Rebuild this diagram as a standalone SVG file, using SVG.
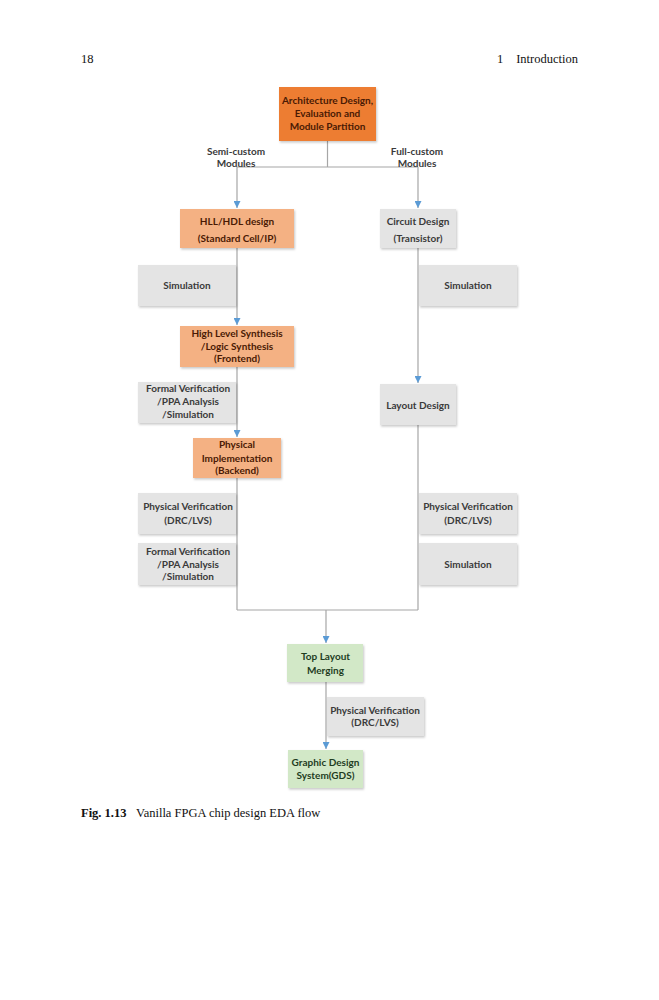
<svg xmlns="http://www.w3.org/2000/svg" width="659" height="1000" viewBox="0 0 659 1000">
<style>
.bg{fill:#ffffff}
.t{font-family:Lato,"Open Sans","Liberation Sans",sans-serif;font-weight:bold;font-size:10px;text-anchor:middle}
.to{fill:#4a1a04}
.tg{fill:#3a3a3a}
.tgr{fill:#1f3d1f}
.tl{fill:#3a3a3a}
.dark{fill:#ED7D31}
.orange{fill:#F4B183}
.gray{fill:#E4E4E4}
.green{fill:#D2E8C7}
.box{filter:url(#sh)}
.ln{stroke:#A6A6A6;stroke-width:1.2;fill:none}
.ar{stroke:#A6A6A6;stroke-width:1.2;fill:none;marker-end:url(#ah)}
.pg{font-family:"Liberation Serif",serif;font-size:12.5px;fill:#111}
</style>
<defs>
<filter id="sh" x="-10%" y="-10%" width="125%" height="130%">
<feDropShadow dx="1" dy="1.5" stdDeviation="1" flood-color="#000" flood-opacity="0.22"/>
</filter>
<marker id="ah" markerWidth="8" markerHeight="7" refX="7" refY="3.5" orient="auto" markerUnits="userSpaceOnUse">
<path d="M0,0 L7,3.5 L0,7 z" fill="#5B9BD5"/>
</marker>
</defs>
<rect class="bg" width="659" height="1000"/>
<text class="pg" x="81" y="63">18</text>
<text class="pg" x="497" y="63">1</text>
<text class="pg" x="578" y="63" text-anchor="end">Introduction</text>

<g id="connectors">
<line class="ln" x1="327.5" y1="141" x2="327.5" y2="167"/>
<line class="ln" x1="237" y1="167" x2="418" y2="167"/>
<line class="ar" x1="237" y1="167" x2="237" y2="208"/>
<line class="ar" x1="418" y1="167" x2="418" y2="208"/>
<line class="ar" x1="237" y1="248" x2="237" y2="325"/>
<line class="ar" x1="237" y1="367" x2="237" y2="437"/>
<line class="ln" x1="237" y1="478" x2="237" y2="610"/>
<line class="ar" x1="418" y1="248" x2="418" y2="383"/>
<line class="ln" x1="418" y1="425" x2="418" y2="610"/>
<line class="ln" x1="237" y1="610" x2="418" y2="610"/>
<line class="ar" x1="326" y1="610" x2="326" y2="643"/>
<line class="ar" x1="326" y1="682" x2="326" y2="749"/>
</g>

<g id="arch">
<rect class="dark box" x="279" y="87" width="97" height="54"/>
<text class="t to" x="327.5" y="104.3">Architecture Design,</text>
<text class="t to" x="327.5" y="117.3">Evaluation and</text>
<text class="t to" x="327.5" y="130.3">Module Partition</text>
</g>
<g id="semi-label">
<text class="t tl" x="236" y="154.5">Semi-custom</text>
<text class="t tl" x="236" y="166.5">Modules</text>
</g>
<g id="full-label">
<text class="t tl" x="417" y="154.5">Full-custom</text>
<text class="t tl" x="417" y="166.5">Modules</text>
</g>

<g id="hll">
<rect class="orange box" x="180" y="209" width="114" height="39"/>
<text class="t to" x="237" y="225.3">HLL/HDL design</text>
<text class="t to" x="237" y="241.8">(Standard Cell/IP)</text>
</g>
<g id="circuit">
<rect class="gray box" x="380" y="209" width="76" height="39"/>
<text class="t tg" x="418" y="225.3">Circuit Design</text>
<text class="t tg" x="418" y="241.8">(Transistor)</text>
</g>
<g id="sim-left">
<rect class="gray box" x="138" y="265" width="98" height="41"/>
<text class="t tg" x="187" y="288.8">Simulation</text>
</g>
<g id="sim-right">
<rect class="gray box" x="419" y="265" width="98" height="41"/>
<text class="t tg" x="468" y="288.8">Simulation</text>
</g>
<g id="hls">
<rect class="orange box" x="180" y="326" width="114" height="41"/>
<text class="t to" x="237" y="336.8">High Level Synthesis</text>
<text class="t to" x="237" y="349.6">/Logic Synthesis</text>
<text class="t to" x="237" y="362.3">(Frontend)</text>
</g>
<g id="fv1">
<rect class="gray box" x="138" y="382" width="98" height="41"/>
<text class="t tg" x="188" y="391.9">Formal Verification</text>
<text class="t tg" x="188" y="405.3">/PPA Analysis</text>
<text class="t tg" x="188" y="417.9">/Simulation</text>
</g>
<g id="layout">
<rect class="gray box" x="380" y="384" width="76" height="41"/>
<text class="t tg" x="418" y="408.6">Layout Design</text>
</g>
<g id="phys-impl">
<rect class="orange box" x="193" y="438" width="88" height="40"/>
<text class="t to" x="237" y="447.9">Physical</text>
<text class="t to" x="237" y="461.9">Implementation</text>
<text class="t to" x="237" y="474.3">(Backend)</text>
</g>
<g id="pv-left">
<rect class="gray box" x="138" y="493" width="98" height="41"/>
<text class="t tg" x="188" y="510.3">Physical Verification</text>
<text class="t tg" x="188" y="523.6">(DRC/LVS)</text>
</g>
<g id="pv-right">
<rect class="gray box" x="419" y="493" width="98" height="41"/>
<text class="t tg" x="468" y="510.3">Physical Verification</text>
<text class="t tg" x="468" y="523.6">(DRC/LVS)</text>
</g>
<g id="fv2">
<rect class="gray box" x="138" y="543" width="98" height="42"/>
<text class="t tg" x="188" y="554.6">Formal Verification</text>
<text class="t tg" x="188" y="567.9">/PPA Analysis</text>
<text class="t tg" x="188" y="580.3">/Simulation</text>
</g>
<g id="sim-right2">
<rect class="gray box" x="419" y="543" width="98" height="42"/>
<text class="t tg" x="468" y="567.9">Simulation</text>
</g>
<g id="top-layout">
<rect class="green box" x="287" y="644" width="76" height="38"/>
<text class="t tgr" x="325.5" y="660.3">Top Layout</text>
<text class="t tgr" x="325.5" y="673.6">Merging</text>
</g>
<g id="pv-final">
<rect class="gray box" x="327" y="697" width="97" height="39"/>
<text class="t tg" x="375" y="713.6">Physical Verification</text>
<text class="t tg" x="375" y="726.3">(DRC/LVS)</text>
</g>
<g id="gds">
<rect class="green box" x="288" y="750" width="75" height="38"/>
<text class="t tgr" x="325.5" y="766.3">Graphic Design</text>
<text class="t tgr" x="325.5" y="778.6">System(GDS)</text>
</g>

<text class="pg" x="81" y="817"><tspan font-weight="bold">Fig. 1.13</tspan><tspan x="136">Vanilla FPGA chip design EDA flow</tspan></text>
</svg>
